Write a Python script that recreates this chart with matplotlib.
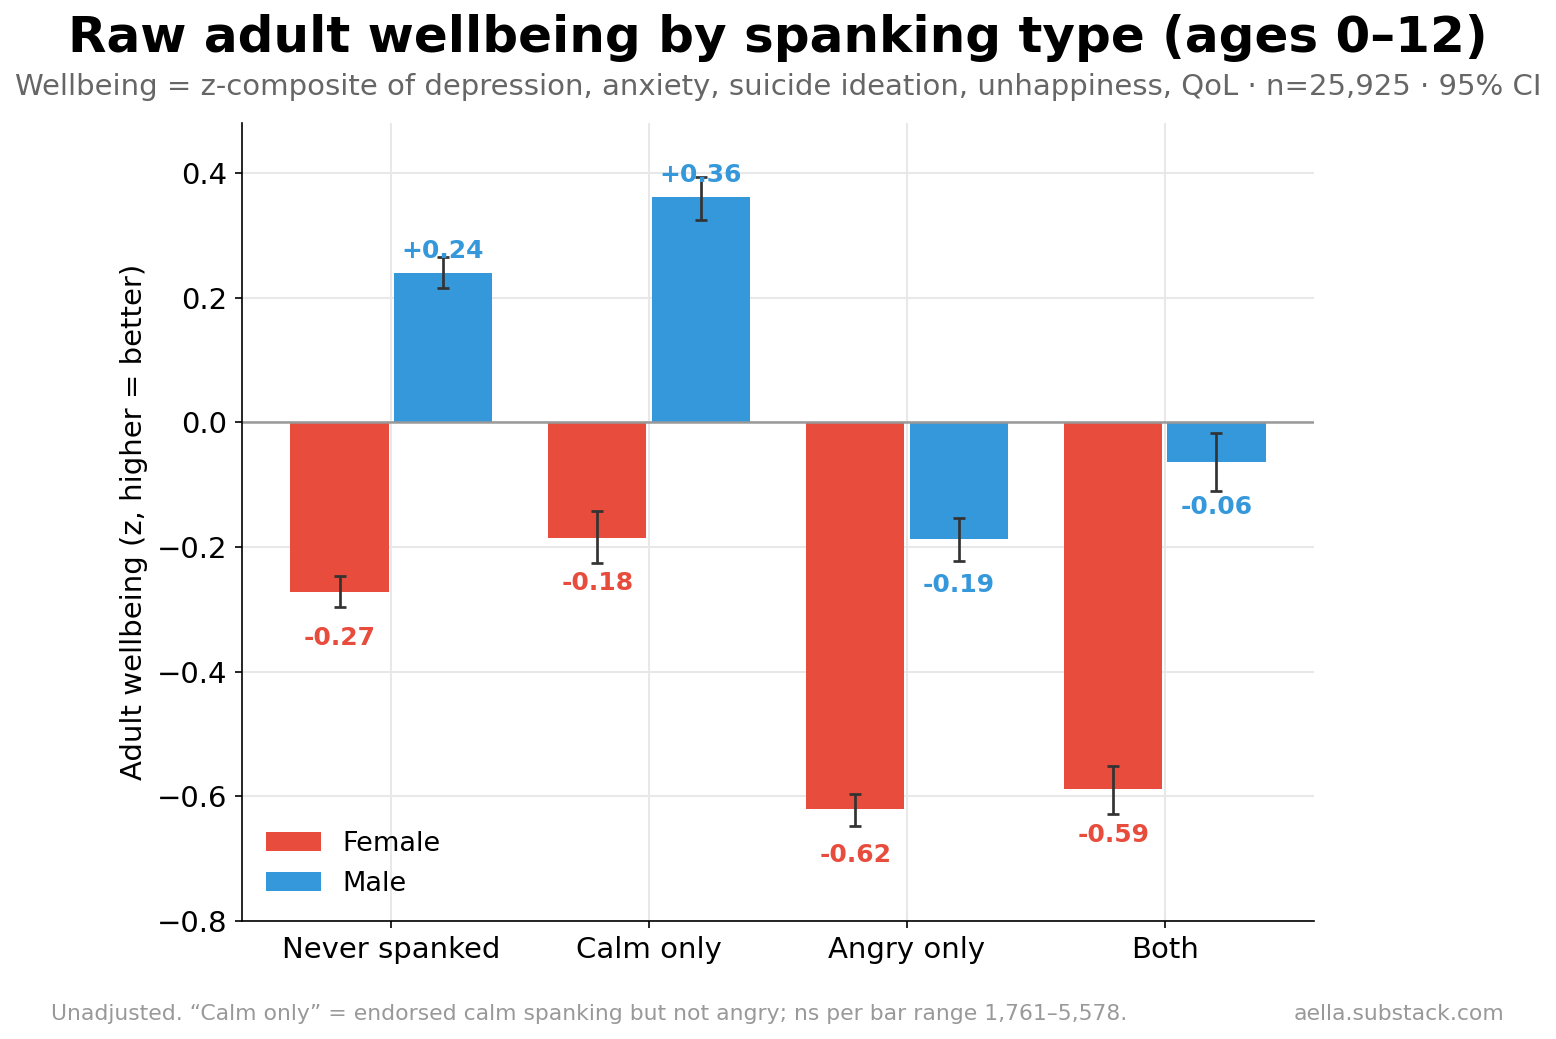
import matplotlib
matplotlib.use("Agg")
import matplotlib.pyplot as plt
import numpy as np

categories = ["Never spanked", "Calm only", "Angry only", "Both"]
female_vals = [-0.273, -0.185, -0.621, -0.589]
female_lo = [-0.297, -0.226, -0.647, -0.628]
female_hi = [-0.247, -0.143, -0.596, -0.551]
male_vals = [0.240, 0.361, -0.188, -0.063]
male_lo = [0.215, 0.325, -0.222, -0.110]
male_hi = [0.265, 0.394, -0.153, -0.017]

RED = "#E74C3C"
BLUE = "#3498DB"

fig = plt.figure(figsize=(1556 / 150, 1039 / 150), dpi=150)
ax = fig.add_axes([242 / 1556, 1 - 921 / 1039, (1314 - 242) / 1556, (921 - 123) / 1039])

x = np.arange(len(categories))
w = 0.38
off = 0.2

for vals, lo, hi, color, name, sign in [
    (female_vals, female_lo, female_hi, RED, "Female", -1),
    (male_vals, male_lo, male_hi, BLUE, "Male", 1),
]:
    xs = x + sign * off
    vals = np.array(vals)
    err = np.array([vals - np.array(lo), np.array(hi) - vals])
    ax.bar(xs, vals, width=w, color=color, label=name, zorder=2)
    ax.errorbar(xs, vals, yerr=err, fmt="none", ecolor="#333333", elinewidth=1.3,
                capsize=3, capthick=1.3, zorder=3)
    for xi, v in zip(xs, vals):
        if v >= 0:
            ax.text(xi, v + 0.016, f"+{v:.2f}", ha="center", va="bottom",
                    color=color, fontsize=12, fontweight="bold", zorder=4)
        else:
            ax.text(xi, v - 0.054, f"{v:.2f}", ha="center", va="top",
                    color=color, fontsize=12, fontweight="bold", zorder=4)

ax.axhline(0, color="#999999", linewidth=1.2, zorder=2.5)
ax.set_xlim(-0.578, 3.578)
ax.set_ylim(-0.8, 0.48)
ax.set_yticks([-0.8, -0.6, -0.4, -0.2, 0.0, 0.2, 0.4])
ax.set_xticks(x)
ax.set_xticklabels(categories, fontsize=14)
ax.tick_params(axis="y", labelsize=14)
ax.set_ylabel("Adult wellbeing (z, higher = better)", fontsize=14)
ax.grid(True, color="#e8e8e8", linewidth=1, zorder=0)
ax.set_axisbelow(True)
for s in ["top", "right"]:
    ax.spines[s].set_visible(False)

ax.legend(loc="lower left", frameon=False, fontsize=13)

fig.text(0.5, 0.963, "Raw adult wellbeing by spanking type (ages 0\u201312)", ha="center",
         va="center", fontsize=24, fontweight="bold")
fig.text(0.5, 0.916, "Wellbeing = z-composite of depression, anxiety, suicide ideation, unhappiness, QoL \u00b7 n=25,925 \u00b7 95% CI",
         ha="center", va="center", fontsize=14, color="#666666")
fig.text(51 / 1556, 1 - 1014 / 1039, "Unadjusted. \u201cCalm only\u201d = endorsed calm spanking but not angry; ns per bar range 1,761\u20135,578.",
         ha="left", va="center", fontsize=10.5, color="#999999")
fig.text(1504 / 1556, 1 - 1014 / 1039, "aella.substack.com", ha="right", va="center",
         fontsize=10.5, color="#999999")

fig.savefig("out.png", dpi=150)
